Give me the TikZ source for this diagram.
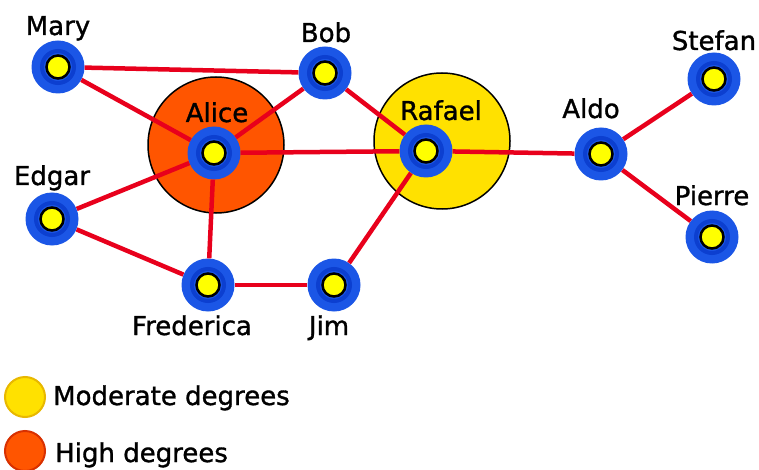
\documentclass[tikz,border=0pt]{standalone}
\usepackage{fontspec}
\setmainfont{DejaVu Sans}
\newfontfamily\labelfont[FakeBold=1.2]{DejaVu Sans}
\definecolor{edgered}{HTML}{E8001C}
\definecolor{ringblue}{HTML}{1B56E6}
\definecolor{ringdark}{HTML}{0C3FD0}
\definecolor{dotyellow}{HTML}{FFFF00}
\definecolor{haloyellow}{HTML}{FFE100}
\definecolor{haloorange}{HTML}{FF5500}
\definecolor{keyyellowline}{HTML}{E8B800}
\definecolor{keyorangeline}{HTML}{D83000}
\begin{document}
\begin{tikzpicture}[x=1pt,y=-1pt,
  edge/.style={draw=edgered, line width=4.5pt},
  vertex/.style={circle, fill=ringblue, minimum size=53pt, inner sep=0pt,
    path picture={
      \draw[ringdark, line width=4pt]
        (path picture bounding box.center) circle[radius=16pt];
      \draw[fill=dotyellow, line width=2.5pt]
        (path picture bounding box.center) circle[radius=11.5pt];}},
  halo/.style={circle, draw=black, line width=1.5pt, minimum size=136pt, inner sep=0pt},
  lab/.style={anchor=base, font=\labelfont\fontsize{26}{30}\selectfont, inner sep=0pt},
  keydot/.style={circle, minimum size=40pt, inner sep=0pt, line width=2pt},
  keytext/.style={anchor=base west, font=\labelfont\fontsize{26}{30}\selectfont, inner sep=0pt}]
\useasboundingbox (0,0) rectangle (759,470);
\fill[white] (0,0) rectangle (759,470);

% degree halos
\node[halo, fill=haloorange] (alicehalo) at (216,145) {};
\node[halo, fill=haloyellow] (rafaelhalo) at (442,141) {};

% people
\node[vertex] (mary) at (58,67) {};
\node[vertex] (bob) at (325,73) {};
\node[vertex] (alice) at (214,153) {};
\node[vertex] (edgar) at (52,219) {};
\node[vertex] (rafael) at (426,151) {};
\node[vertex] (aldo) at (601,154) {};
\node[vertex] (stefan) at (714,79) {};
\node[vertex] (pierre) at (712,237) {};
\node[vertex] (frederica) at (208,285) {};
\node[vertex] (jim) at (334,285) {};

% acquaintances
\begin{scope}[every path/.style={edge}]
\draw (mary) -- (bob);
\draw (mary) -- (alice);
\draw (bob) -- (alice);
\draw (bob) -- (rafael);
\draw (alice) -- (rafael);
\draw (alice) -- (edgar);
\draw (alice) -- (frederica);
\draw (edgar) -- (frederica);
\draw (frederica) -- (jim);
\draw (jim) -- (rafael);
\draw (rafael) -- (aldo);
\draw (aldo) -- (stefan);
\draw (aldo) -- (pierre);
\end{scope}

% names
\node[lab] (marylab) at (58,35) {Mary};
\node[lab] (boblab) at (326,42) {Bob};
\node[lab] (alicelab) at (217,122) {Alice};
\node[lab] (edgarlab) at (52,185) {Edgar};
\node[lab] (rafaellab) at (441,120) {Rafael};
\node[lab] (aldolab) at (591,118) {Aldo};
\node[lab] (stefanlab) at (714,50) {Stefan};
\node[lab] (pierrelab) at (712,205) {Pierre};
\node[lab] (fredericalab) at (192,335) {Frederica};
\node[lab] (jimlab) at (329,335) {Jim};

% legend
\node[keydot, fill=haloyellow, draw=keyyellowline] (keymod) at (25,397) {};
\node[keytext] (keymodtext) at (53,405) {Moderate degrees};
\node[keydot, fill=haloorange, draw=keyorangeline] (keyhigh) at (25,451) {};
\node[keytext] (keyhightext) at (55,462) {High degrees};
\end{tikzpicture}
\end{document}
